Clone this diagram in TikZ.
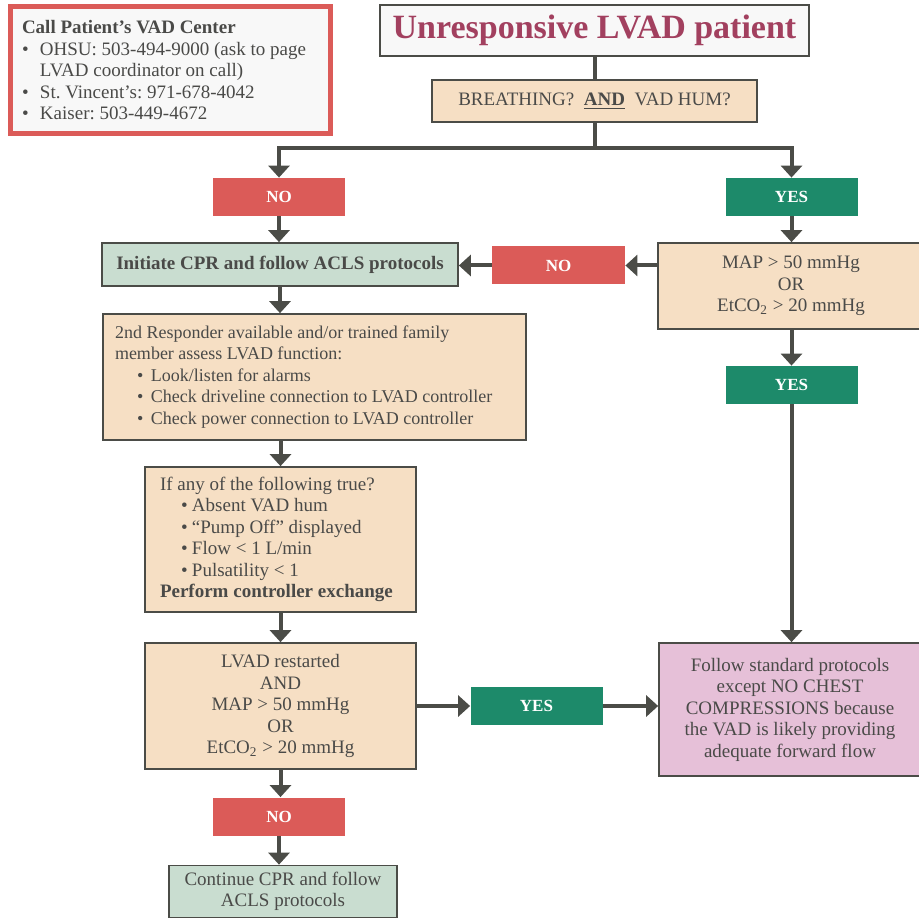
\documentclass[tikz,border=0pt]{standalone}
\usepackage{fontspec}
\setmainfont{Liberation Serif}
\usepackage{tikz}
\usetikzlibrary{shapes,arrows.meta,positioning,calc}
\definecolor{vadred}{RGB}{219,91,88}
\definecolor{vadgreen}{RGB}{29,138,106}
\definecolor{vadtan}{RGB}{246,223,196}
\definecolor{vadmint}{RGB}{201,221,208}
\definecolor{vadpink}{RGB}{230,192,216}
\definecolor{vadplum}{RGB}{162,64,95}
\definecolor{vadgray}{RGB}{75,76,71}
\definecolor{vadtext}{RGB}{74,74,72}
\definecolor{vadpaper}{RGB}{248,248,248}
\newcommand{\vaditem}[2]{\hspace*{#1}\makebox[#2][l]{\textbullet}}

\begin{document}
\frenchspacing
\begin{tikzpicture}[x=0.5pt, y=-0.5pt,
    every node/.style={text=vadtext, font=\fontsize{9.5}{10.75}\selectfont},
    box/.style={draw=vadgray, line width=0.85pt, inner sep=0pt, align=center},
    tanbox/.style={box, fill=vadtan},
    mintbox/.style={box, fill=vadmint},
    nobox/.style={fill=vadred, text=white, font=\fontsize{8.5}{10}\selectfont\bfseries,
        minimum width=66pt, minimum height=19pt, inner sep=0pt},
    yesbox/.style={nobox, fill=vadgreen},
    arr/.style={-{Triangle[width=10.5pt,length=6pt]}, line width=2pt, draw=vadgray},
    link/.style={line width=2pt, draw=vadgray}]
    \useasboundingbox (0,0) rectangle (918,919);

    \node[draw=vadred, line width=2.5pt, fill=vadpaper, text width=148pt, inner xsep=6pt,
        minimum height=63.5pt, align=flush left] (call) at (170,70.5)
        {\textbf{Call Patient’s VAD Center}\\
         \vaditem{0pt}{9pt}OHSU: 503-494-9000 (ask to page\\
         \hspace*{9pt}LVAD coordinator on call)\\
         \vaditem{0pt}{9pt}St. Vincent’s: 971-678-4042\\
         \vaditem{0pt}{9pt}Kaiser: 503-449-4672};

    \node[box, fill=vadpaper, minimum width=214.5pt, minimum height=25.5pt, text=vadplum,
        font=\fontsize{17}{19}\selectfont\bfseries] (title) at (594.5,30.5) {Unresponsive LVAD patient};
    \node[tanbox, minimum width=162.5pt, minimum height=21pt] (breath) at (594.5,101)
        {BREATHING?\ \ \underline{\textbf{AND}}\ \ VAD HUM?};
    \coordinate (split) at (594.5,148);

    \node[nobox] (no1) at (279,197) {NO};
    \node[yesbox] (yes1) at (791.5,197) {YES};

    \node[mintbox, minimum width=178pt, minimum height=21.5pt,
        font=\fontsize{9.5}{10.75}\selectfont\bfseries] (cpr) at (280,264.5)
        {Initiate CPR and follow ACLS protocols};
    \node[nobox, minimum width=66.5pt] (no2) at (558.5,265.5) {NO};
    \node[tanbox, minimum width=133pt, minimum height=43pt] (map) at (791,286)
        {MAP > 50 mmHg\\OR\\EtCO\textsubscript{2} > 20 mmHg};
    \node[yesbox] (yes2) at (791.5,385) {YES};

    \node[tanbox, text width=199.5pt, inner xsep=6pt, minimum height=63pt, align=flush left,
        font=\fontsize{9}{10.75}\selectfont] (resp) at (314.5,377)
        {2nd Responder available and/or trained family\\
         member assess LVAD function:\\
         \vaditem{11pt}{7pt}Look/listen for alarms\\
         \vaditem{11pt}{7pt}Check driveline connection to LVAD controller\\
         \vaditem{11pt}{7pt}Check power connection to LVAD controller};

    \node[tanbox, text width=120.5pt, inner xsep=7.5pt, minimum height=72.5pt, align=flush left] (ifany) at (280.5,539.5)
        {If any of the following true?\\
         \vaditem{10.5pt}{5.5pt}Absent VAD hum\\
         \vaditem{10.5pt}{5.5pt}“Pump Off” displayed\\
         \vaditem{10.5pt}{5.5pt}Flow < 1 L/min\\
         \vaditem{10.5pt}{5.5pt}Pulsatility < 1\\
         \textbf{Perform controller exchange}};

    \node[tanbox, minimum width=135.5pt, minimum height=63pt] (lvad) at (280.5,706)
        {LVAD restarted\\AND\\MAP > 50 mmHg\\OR\\EtCO\textsubscript{2} > 20 mmHg};
    \node[yesbox] (yes3) at (536.5,706) {YES};
    \node[box, fill=vadpink, minimum width=131pt, minimum height=66.5pt] (follow) at (790,709.5)
        {Follow standard protocols\\except NO CHEST\\COMPRESSIONS because\\the VAD is likely providing\\adequate forward flow};

    \node[nobox] (no3) at (279,816.5) {NO};
    \node[mintbox, minimum width=114pt, minimum height=26pt] (cont) at (283,891.5)
        {Continue CPR and follow\\ACLS protocols};

    \draw[link] (title) -- (breath);
    \draw[link] (breath) -- (split);
    \draw[arr] (split) -| (no1);
    \draw[arr] (split) -| (yes1);
    \draw[arr] (no1) -- (no1 |- cpr.north);
    \draw[arr] (yes1) -- (yes1 |- map.north);
    \draw[arr] (map.west |- no2) -- (no2);
    \draw[arr] (no2) -- (cpr.east |- no2);
    \draw[arr] (map.south -| yes2) -- (yes2);
    \draw[arr] (yes2) -- (yes2 |- follow.north);
    \draw[arr] (cpr) -- (cpr |- resp.north);
    \draw[arr] (ifany |- resp.south) -- (ifany);
    \draw[arr] (ifany) -- (lvad);
    \draw[arr] (lvad) -- (yes3);
    \draw[arr] (yes3) -- (yes3 -| follow.west);
    \draw[arr] (lvad) -- (lvad |- no3.north);
    \draw[arr] (no3) -- (no3 |- cont.north);
\end{tikzpicture}
\end{document}
